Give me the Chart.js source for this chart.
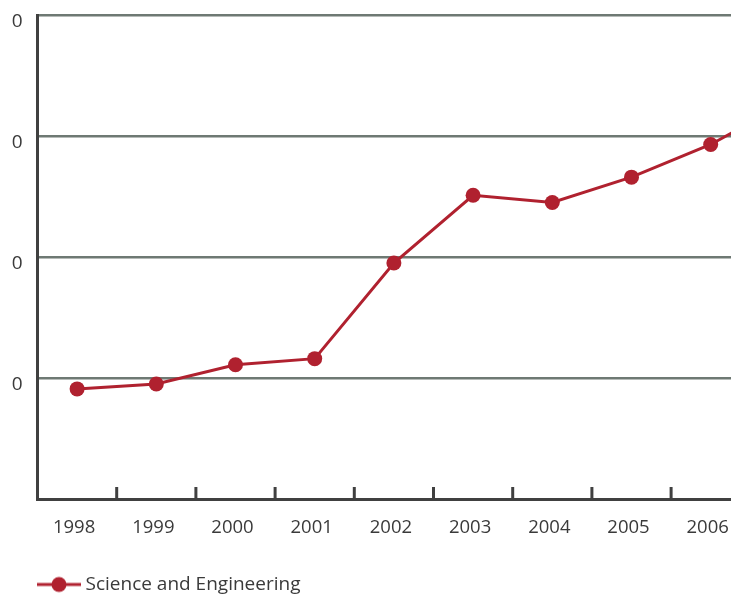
<!DOCTYPE html>
<html>
<head>
<meta charset="utf-8">
<script src="https://cdn.jsdelivr.net/npm/chart.js@4.4.0/dist/chart.umd.min.js"></script>
<style>
  html, body { margin: 0; padding: 0; background: #fff; overflow: hidden; }
  #wrap { position: absolute; left: 0; top: 0; width: 837px; height: 604px; }
</style>
</head>
<body>
<div id="wrap"><canvas id="lineChart"></canvas></div>
<script>
// years on the x axis (2007 runs off the right edge)
var years = ['1998', '1999', '2000', '2001', '2002', '2003', '2004', '2005', '2006', '2007'];
var scienceEngineering = [0.091, 0.095, 0.111, 0.116, 0.195, 0.251, 0.245, 0.266, 0.293, 0.329];
var yTicks = [0, 0.1, 0.2, 0.3, 0.4];

var red = '#b0212f';
var gridGrey = '#6e7973';
var axisGrey = '#404040';

// line-with-dot marker for the legend; the empty left part pushes it in line with the y axis
var marker = document.createElement('canvas');
marker.width = 74;
marker.height = 18;
(function () {
    var m = marker.getContext('2d');
    m.strokeStyle = red;
    m.lineWidth = 3;
    m.beginPath();
    m.moveTo(30, 9);
    m.lineTo(74, 9);
    m.stroke();
    m.fillStyle = red;
    m.beginPath();
    m.arc(52, 9, 7.5, 0, Math.PI * 2);
    m.fill();
})();

// short ticks standing up from the x axis between the years
var innerTicks = {
    id: 'innerTicks',
    afterDraw: function (chart) {
        var x = chart.scales.x;
        var bottom = chart.chartArea.bottom;
        var c = chart.ctx;
        c.save();
        c.strokeStyle = axisGrey;
        c.lineWidth = 3;
        for (var i = 1; i < years.length; i++) {
            var px = (x.getPixelForValue(i - 1) + x.getPixelForValue(i)) / 2;
            c.beginPath();
            c.moveTo(px, bottom - 12);
            c.lineTo(px, bottom);
            c.stroke();
        }
        c.restore();
    }
};

var ctx = document.getElementById('lineChart').getContext('2d');

var chart = new Chart(ctx, {
    type: 'line',
    data: {
        labels: years,
        datasets: [{
            label: 'Science and Engineering',
            data: scienceEngineering,
            borderColor: red,
            backgroundColor: red,
            borderWidth: 3,
            pointRadius: 7.5,
            pointBorderWidth: 0,
            pointBackgroundColor: red,
            tension: 0
        }]
    },
    options: {
        responsive: true,
        maintainAspectRatio: false,
        animation: false,
        layout: { padding: { left: 0, right: 0, top: 15, bottom: 0 } },
        plugins: {
            tooltip: { enabled: false },
            legend: {
                position: 'bottom',
                align: 'start',
                labels: {
                    usePointStyle: true,
                    pointStyle: marker,
                    pointStyleWidth: 64,
                    padding: 12,
                    color: '#3a3a3a',
                    font: { family: 'Open Sans', size: 19 }
                }
            }
        },
        scales: {
            x: {
                offset: true,
                afterFit: function (s) {
                    s.height = 64;
                    s.paddingLeft = 0;
                    s.paddingRight = 0;
                },
                grid: { display: false, drawTicks: false },
                border: { display: true, color: axisGrey, width: 3 },
                ticks: {
                    padding: 18,
                    labelOffset: -3,
                    color: '#3a3a3a',
                    font: { family: 'Open Sans', size: 18.5 }
                }
            },
            y: {
                min: yTicks[0],
                max: yTicks[yTicks.length - 1],
                afterFit: function (s) {
                    s.width = 37.5;
                    s.paddingTop = 0;
                    s.paddingBottom = 0;
                },
                afterBuildTicks: function (s) {
                    s.ticks = yTicks.map(function (v) { return { value: v }; });
                },
                grid: { color: gridGrey, lineWidth: 2.5, drawTicks: false },
                border: { display: true, color: axisGrey, width: 3 },
                ticks: {
                    padding: 15,
                    labelOffset: 7,
                    color: '#3a3a3a',
                    font: { family: 'Open Sans', size: 19 },
                    callback: function (v) { return v === 0 ? '' : v.toFixed(0); }
                }
            }
        }
    },
    plugins: [innerTicks]
});
</script>
</body>
</html>
